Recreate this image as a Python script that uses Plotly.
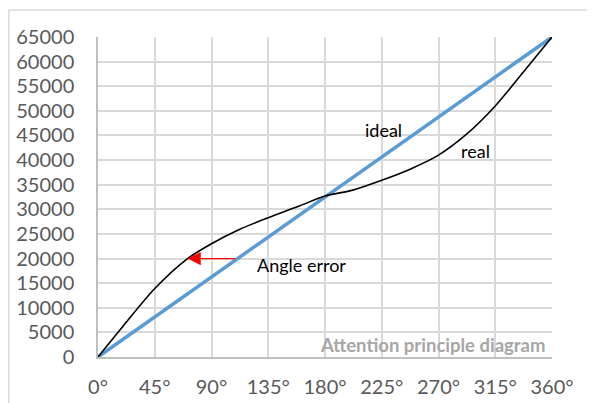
import plotly.graph_objects as go

# Data
ideal_angles = [0, 360]
ideal_values = [0, 65000]

real_angles = [0, 20, 45, 70, 90, 112, 135, 158, 180, 202, 225, 247, 270, 292, 315, 337, 360]
real_values = [0, 6300, 13900, 19800, 23000, 25900, 28300, 30500, 32700, 33900, 35900,
               38100, 41000, 45200, 51000, 57800, 65000]

x_tickvals = [0, 45, 90, 135, 180, 225, 270, 315, 360]
x_ticktext = ["0°", "45°", "90°", "135°", "180°", "225°", "270°", "315°", "360°"]
y_tickvals = list(range(0, 65001, 5000))
y_ticktext = [str(v) for v in y_tickvals]

FONT = "Lato"
fig = go.Figure()
fig.add_trace(go.Scatter(x=ideal_angles, y=ideal_values, mode="lines",
                         line=dict(color="#5b9bd5", width=3.5), showlegend=False))
fig.add_trace(go.Scatter(x=real_angles, y=real_values, mode="lines",
                         line=dict(color="#000000", width=1.6, shape="spline", smoothing=0.8),
                         showlegend=False))

# The page body has an 8px margin, so the figure is placed 8px right/down.
OFF = 8
W, H = 595, 403
L, R, T, B = 98 - OFF, 595 - 552 + OFF, 37 - OFF, 403 - 357 + OFF
pw, ph = W - L - R, H - T - B

def px(xp):
    return (xp - OFF - L) / pw

def py(yp):
    return (H - B - (yp - OFF)) / ph

fig.update_layout(
    width=W, height=H,
    margin=dict(l=L, r=R, t=T, b=B),
    paper_bgcolor="white", plot_bgcolor="white",
    font=dict(family=FONT, color="#595959", size=20),
    xaxis=dict(range=[0, 360], tickvals=x_tickvals, ticktext=x_ticktext, automargin=False,
               showgrid=True, gridcolor="#d9d9d9", gridwidth=1.5,
               showline=True, linecolor="#bfbfbf", linewidth=1.5,
               zeroline=False, ticks="", ticklabelstandoff=11,
               tickfont=dict(size=20, color="#595959", family=FONT)),
    yaxis=dict(range=[0, 65000], tickvals=y_tickvals, ticktext=y_ticktext, automargin=False,
               showgrid=True, gridcolor="#d9d9d9", gridwidth=1.5,
               showline=True, linecolor="#bfbfbf", linewidth=1.5,
               zeroline=False, ticks="", ticklabelstandoff=18,
               tickfont=dict(size=20, color="#595959", family=FONT)),
    shapes=[
        dict(type="line", xref="paper", yref="paper", x0=px(8.8), y0=py(10), x1=px(610), y1=py(10),
             line=dict(color="#d9d9d9", width=1.5)),
        dict(type="line", xref="paper", yref="paper", x0=px(8.8), y0=py(10), x1=px(8.8), y1=py(420),
             line=dict(color="#d9d9d9", width=1.5)),
    ],
    annotations=[
        dict(x=71, y=20000, ax=110, ay=20000, xref="x", yref="y", axref="x", ayref="y",
             text="", showarrow=True, arrowhead=2, arrowsize=2.2, arrowwidth=1.2,
             arrowcolor="#ff0000"),
        dict(x=124.5, y=18700, xref="x", yref="y", text="Angle error", showarrow=False,
             xanchor="left", yanchor="middle", font=dict(family=FONT, size=18, color="#000000")),
        dict(x=226, y=46100, xref="x", yref="y", text="ideal", showarrow=False,
             xanchor="center", yanchor="middle", font=dict(family=FONT, size=18, color="#000000")),
        dict(x=299, y=41800, xref="x", yref="y", text="real", showarrow=False,
             xanchor="center", yanchor="middle", font=dict(family=FONT, size=18, color="#000000")),
        dict(x=357, y=2440, xref="x", yref="y", text="<b>Attention principle diagram</b>",
             showarrow=False, xanchor="right", yanchor="middle",
             font=dict(family=FONT, size=18.5, color="#a6a6a6")),
    ],
)

fig.write_html("out.html")
